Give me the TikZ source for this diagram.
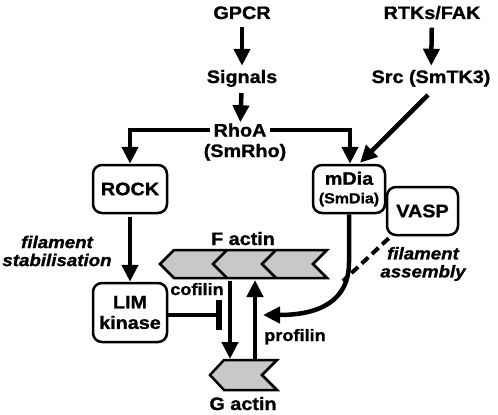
\documentclass[tikz,border=0pt]{standalone}
\usepackage{fontspec}
\setmainfont{Liberation Sans}[FakeStretch=1.1, BoldFeatures={FakeBold=1.2}, BoldItalicFeatures={FakeBold=1.2}]
\usetikzlibrary{arrows.meta}
\definecolor{filgray}{RGB}{200,200,200}
\tikzset{
  lbl/.style={font=\bfseries\fontsize{18}{21.6}\selectfont, inner sep=0pt, anchor=base},
  itl/.style={font=\bfseries\itshape\fontsize{17}{18}\selectfont, inner sep=0pt, align=center},
  box/.style={draw, line width=2.5pt, rounded corners=9pt, font=\bfseries\fontsize{18}{21.6}\selectfont, inner sep=1pt, align=center},
  arr/.style={line width=4.5pt, -{Triangle[length=17pt,width=16pt]}},
  inh/.style={line width=4.5pt, -{Bar[width=30pt,line width=6pt]}},
  dsh/.style={line width=4pt, dash pattern=on 9pt off 5pt},
  fil/.style={draw, line width=2.5pt, fill=filgray, line join=miter},
  chev/.style={line width=2.5pt}
}
\begin{document}
\begin{tikzpicture}[x=1pt,y=-1pt]
\useasboundingbox (0,0) rectangle (498,415);
% text labels
\node[lbl] (gpcr) at (242,19) {GPCR};
\node[lbl] (sig) at (242,83) {Signals};
\node[lbl] (rhoa) at (240,136.5) {RhoA};
\node[lbl] (smrho) at (245,157) {(SmRho)};
\node[lbl] (rtk) at (432,19) {RTKs/FAK};
\node[lbl] (src) at (431,83) {Src (SmTK3)};
% boxes
\node[box, minimum width=74pt, minimum height=48pt] (rock) at (130,189) {ROCK};
\node[box, minimum width=74pt, minimum height=59pt] (lim) at (130,312.5) {LIM\\[-1pt]kinase};
\node[box, minimum width=72pt, minimum height=48pt] (mdia) at (349,189) {mDia\\[-3pt]{\fontsize{14.5}{16}\selectfont (SmDia)}};
\node[box, minimum width=71pt, minimum height=48pt] (vasp) at (422.5,211) {VASP};
% italic labels
\node[itl] (stab) at (57,251) {filament\\stabilisation};
\node[itl] (assem) at (423,264) {filament\\assembly};
% actin labels
\node[lbl] (fact) at (243,245) {F actin};
\node[lbl] (gact) at (243,410) {G actin};
\node[lbl, font=\bfseries\fontsize{16.5}{18}\selectfont] (cof) at (197,295) {cofilin};
\node[lbl, font=\bfseries\fontsize{16.5}{18}\selectfont] (prof) at (295,341) {profilin};
% F actin filament
\draw[fil] (160,264) -- (174,250) -- (327,250) -- (313,264) -- (327,278) -- (174,278) -- cycle;
\draw[chev] (227,250) -- (213,264) -- (227,278);
\draw[chev] (276,250) -- (262,264) -- (276,278);
% G actin monomer
\draw[fil] (210,375) -- (224,360) -- (277,360) -- (262,375) -- (277,390) -- (224,390) -- cycle;
% coordinates
\coordinate (fa1) at (230,281);
\coordinate (ga1) at (230,359);
\coordinate (ga2) at (255,359);
\coordinate (fa2) at (255,280);
\coordinate (cofbar) at (222,315);
\coordinate (profin) at (263,315);
\coordinate (dashend) at (343,281);
% arrows
\draw[arr, shorten <=8pt, shorten >=4pt] (gpcr) -- (sig);
\draw[arr, shorten <=6pt, shorten >=1pt] (sig) -- (rhoa);
\draw[arr, shorten <=8pt, shorten >=4pt] (rtk) -- (src);
\draw[arr] ([xshift=-3pt,yshift=-8pt]src.south) -- ([xshift=11pt,yshift=1pt]mdia.north);
\draw[arr, shorten <=3pt] (rhoa.east) -| ([xshift=1pt]mdia.north);
\draw[arr, shorten <=3pt] (rhoa.west) -| (rock.north);
\draw[arr, shorten <=3pt] (rock.south) -- (lim.north);
\draw[inh] ([yshift=-2.5pt]lim.east) -- (cofbar);
\draw[arr] (fa1) -- (ga1);
\draw[arr] (ga2) -- (fa2);
\draw[arr] (mdia.south) -- ([yshift=-48pt]mdia.south) .. controls (349,302) and (318,315) .. (profin);
\draw[dsh] ([xshift=3pt,yshift=-2pt]vasp.south west) -- (dashend);
\end{tikzpicture}
\end{document}
